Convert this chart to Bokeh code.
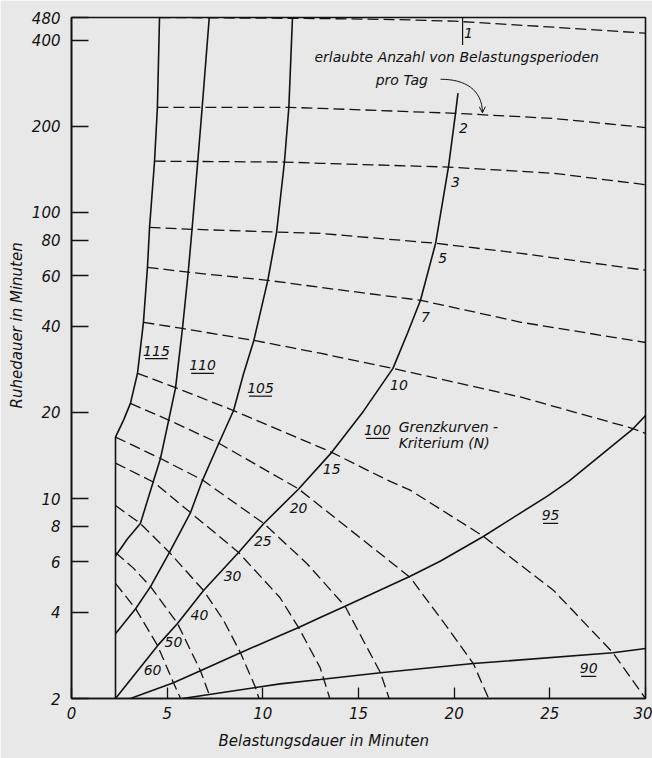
import numpy as np
from bokeh.plotting import figure
from bokeh.models import (Range1d, FixedTicker, NumeralTickFormatter, ColumnDataSource,
                          Label, Arrow, OpenHead, Title)
from bokeh.core.properties import value
from bokeh.embed import file_html
from bokeh.resources import INLINE

# ---------------- data ----------------
X_TICKS = [0, 5, 10, 15, 20, 25, 30]
Y_TICKS = [2, 4, 6, 8, 10, 20, 40, 60, 80, 100, 200, 400, 480]

# Grenzkurven-Kriterium N (solid curves)
n115_x = [2.3, 2.3, 2.72, 3.08, 3.45, 3.76, 3.97, 4.08, 4.34, 4.49, 4.6]
n115_y = [2, 16.4, 18.8, 21.5, 27.4, 41.3, 64.3, 88.7, 151, 233, 480]
n110_x = [2.3, 2.93, 3.6, 4.3, 4.65, 5.08, 5.44, 5.8, 6.1, 6.3, 6.6, 6.83, 7.2]
n110_y = [6.3, 7.23, 8.18, 11.6, 13.8, 18.8, 24.4, 39.3, 61.8, 87.3, 151, 233, 480]
n105_x = [2.3, 3.35, 4.13, 5.12, 6.22, 6.85, 7.7, 8.47, 9.0, 9.53, 10.26, 10.72, 11.13, 11.36, 11.55]
n105_y = [3.37, 4.12, 4.92, 6.48, 8.93, 11.6, 15.6, 20.3, 27.4, 35.7, 57.9, 85.4, 150, 233, 480]
n100_x = [2.3, 4.5, 5.54, 6.9, 8.73, 10.05, 11.87, 13.6, 15.26, 16.8, 17.56, 18.24, 19.03, 19.7, 20.07, 20.2]
n100_y = [2, 3.06, 3.66, 4.77, 6.48, 8.18, 10.8, 14.5, 20.2, 28.5, 37.8, 49.3, 78, 144, 222, 261]
n95_x = [3.08, 5.33, 6.74, 8.83, 10.9, 11.87, 13.0, 14.3, 17.7, 19.29, 21.5, 24.87, 26.0, 29.3, 30]
n95_y = [2, 2.27, 2.5, 2.89, 3.32, 3.54, 3.84, 4.2, 5.35, 6.05, 7.35, 10.2, 11.5, 17.4, 19.5]
n90_x = [5.8, 10.9, 13.0, 16.15, 21.0, 28.3, 30]
n90_y = [2, 2.25, 2.33, 2.46, 2.65, 2.89, 2.99]
n_names = ["115", "110", "105", "100", "95", "90"]
n_label_x = [4.44, 6.85, 9.88, 15.99, 25.04, 27.03]
n_label_y = [32.9, 29.2, 24.3, 17.3, 8.73, 2.55]

# erlaubte Anzahl von Belastungsperioden pro Tag (dashed curves)
p1_x = [4.6, 13.0, 17.0, 20.0, 25.2, 30]
p1_y = [480, 476, 472, 466, 444, 423]
p2_x = [4.49, 11.36, 13.0, 20.07, 25.2, 30]
p2_y = [233, 233, 231, 222, 213, 198]
p3_x = [4.34, 11.13, 13.0, 19.7, 25.2, 30]
p3_y = [151, 150, 148.5, 144, 137, 125]
p5_x = [4.08, 6.3, 10.72, 13.0, 19.03, 23.5, 30]
p5_y = [88.7, 87.3, 85.4, 84.5, 78, 71.9, 62.8]
p7_x = [3.97, 6.1, 10.26, 13.0, 18.24, 23.5, 30]
p7_y = [64.3, 61.8, 57.9, 54.7, 49.3, 41.3, 35.1]
p10_x = [3.76, 5.8, 9.53, 13.0, 16.8, 23.5, 29.3, 30]
p10_y = [41.3, 39.3, 35.7, 32.2, 28.5, 22.6, 17.6, 16.9]
p15_x = [3.45, 5.44, 8.47, 13.6, 16.5, 17.7, 21.5, 25.2, 28.3, 30]
p15_y = [27.4, 24.4, 20.3, 14.5, 11.6, 10.7, 7.4, 4.77, 2.89, 2]
p20_x = [3.08, 5.08, 7.7, 11.87, 15.26, 17.7, 19.65, 21.0, 21.8]
p20_y = [21.5, 18.8, 15.6, 10.8, 7.14, 5.3, 3.54, 2.65, 2]
p25_x = [2.3, 4.65, 6.85, 10.05, 12.3, 14.3, 16.15, 16.6]
p25_y = [16.4, 13.8, 11.6, 8.18, 5.93, 4.2, 2.46, 2]
p30_x = [2.3, 4.3, 6.22, 8.73, 10.9, 11.87, 13.0, 13.5]
p30_y = [13.3, 11.4, 8.93, 6.48, 4.5, 3.54, 2.56, 2]
p40_x = [2.3, 3.6, 5.12, 6.9, 7.95, 8.83, 9.6, 9.8]
p40_y = [9.45, 8.18, 6.48, 4.77, 3.75, 2.89, 2.2, 2]
p50_x = [2.3, 3.25, 4.13, 5.54, 6.74, 7.27]
p50_y = [6.48, 5.7, 4.92, 3.66, 2.5, 2]
p60_x = [2.3, 3.35, 4.5, 5.33, 5.7]
p60_y = [5.05, 4.12, 3.06, 2.27, 2]
p_names = ["1", "2", "3", "5", "7", "10", "15", "20", "25", "30", "40", "50", "60"]

# ---------------- layout / style ----------------
W, H = 652, 758
ML, MR, MT, MB = 71, 7, 17, 60
FW, FH = W - ML - MR, H - MT - MB
FONT = "DejaVu Sans"
INK = "#121212"
BG = "#e8e8e8"
PX_PER_MIN = FW / 30.0
PX_PER_DEC = FH / np.log10(480 / 2)

p = figure(width=W, height=H, title=None, x_range=Range1d(0, 30), y_range=Range1d(2, 480),
           y_axis_type="log", output_backend="svg", toolbar_location=None,
           min_border_left=ML, min_border_right=MR, min_border_top=MT, min_border_bottom=MB,
           background_fill_color=BG, border_fill_color=BG)
p.grid.visible = False
p.outline_line_color = INK
p.outline_line_width = 1.6

xa = p.xaxis[0]
xa.ticker = FixedTicker(ticks=X_TICKS, minor_ticks=[])
xa.major_tick_in = 11
xa.major_tick_out = 0
xa.minor_tick_line_color = None
xa.major_label_standoff = 8
ya = p.yaxis[0]
ya.ticker = FixedTicker(ticks=Y_TICKS, minor_ticks=[])
ya.formatter = NumeralTickFormatter(format="0")
ya.major_tick_in = 17
ya.major_tick_out = 0
ya.minor_tick_line_color = None
ya.major_label_standoff = 11
for ax in (xa, ya):
    ax.axis_line_color = INK
    ax.axis_line_width = 1.6
    ax.major_tick_line_color = INK
    ax.major_tick_line_width = 1.3
    ax.major_label_text_font = FONT
    ax.major_label_text_font_style = "italic"
    ax.major_label_text_font_size = "15px"
    ax.major_label_text_color = INK

n_curves = [(n115_x, n115_y), (n110_x, n110_y), (n105_x, n105_y),
            (n100_x, n100_y), (n95_x, n95_y), (n90_x, n90_y)]
p_curves = [(p1_x, p1_y), (p2_x, p2_y), (p3_x, p3_y), (p5_x, p5_y), (p7_x, p7_y),
            (p10_x, p10_y), (p15_x, p15_y), (p20_x, p20_y), (p25_x, p25_y),
            (p30_x, p30_y), (p40_x, p40_y), (p50_x, p50_y), (p60_x, p60_y)]

for cx, cy in p_curves:
    p.line(cx, cy, line_color=INK, line_width=1.3, line_dash="11 5")
for cx, cy in n_curves:
    p.line(cx, cy, line_color=INK, line_width=1.6)


def crossing(ax_, ay_, bx_, by_):
    ax_ = np.asarray(ax_, float); ay_ = np.log10(np.asarray(ay_, float))
    bx_ = np.asarray(bx_, float); by_ = np.log10(np.asarray(by_, float))
    for i in range(len(ax_) - 1):
        p0 = np.array([ax_[i], ay_[i]]); r = np.array([ax_[i + 1] - ax_[i], ay_[i + 1] - ay_[i]])
        for j in range(len(bx_) - 1):
            q0 = np.array([bx_[j], by_[j]]); s = np.array([bx_[j + 1] - bx_[j], by_[j + 1] - by_[j]])
            den = r[0] * s[1] - r[1] * s[0]
            if abs(den) < 1e-12:
                continue
            d = q0 - p0
            t = (d[0] * s[1] - d[1] * s[0]) / den
            u = (d[0] * r[1] - d[1] * r[0]) / den
            if -1e-6 <= t <= 1 + 1e-6 and -1e-6 <= u <= 1 + 1e-6:
                pt = p0 + t * r
                return pt[0], 10 ** pt[1]
    return None


# labels of the dashed curves, placed at their crossing with curve N = 100
offsets = {"2": (8, 15), "3": (7, 15), "5": (7, 15), "7": (5, 17), "10": (6, 17),
           "15": (0, 17), "20": (0, 19), "25": (-1, 18), "30": (-6, 24),
           "40": (-4, 25), "50": (-4, 19), "60": (-5, 24)}
lx, ly, lt, lox, loy = [], [], [], [], []
for name, (cx, cy) in zip(p_names, p_curves):
    if name not in offsets:
        continue
    c = crossing(cx, cy, n100_x, n100_y)
    if c is None:
        continue
    lx.append(c[0]); ly.append(c[1]); lt.append(name)
    lox.append(offsets[name][0]); loy.append(offsets[name][1])
src = ColumnDataSource(dict(x=lx, y=ly, text=lt, xo=lox, yo=loy))
p.text(x="x", y="y", text="text", x_offset="xo", y_offset="yo", source=src,
       text_font=value(FONT), text_font_style="italic", text_font_size="14px",
       text_color=INK, text_align="center", text_baseline="middle")

# "1" with its marker tick
p.segment(x0=[20.44], y0=[480], x1=[20.44], y1=[385], line_color=INK, line_width=1.2)
p.add_layout(Label(x=20.75, y=425, text="1", text_font=FONT, text_font_style="italic",
                   text_font_size="14px", text_color=INK, text_align="center",
                   text_baseline="middle"))

# N labels (underlined)
nsrc = ColumnDataSource(dict(x=n_label_x, y=n_label_y, text=n_names))
p.text(x="x", y="y", text="text", source=nsrc, text_font=value(FONT),
       text_font_style="italic", text_font_size="14px", text_color=INK,
       text_align="center", text_baseline="middle")
ux0, ux1, uy = [], [], []
for x, y, t in zip(n_label_x, n_label_y, n_names):
    w = (len(t) * 7.6) / PX_PER_MIN
    ux0.append(x - w / 2); ux1.append(x + w / 2)
    uy.append(y * 10 ** (-8 / PX_PER_DEC))
p.segment(x0=ux0, y0=uy, x1=ux1, y1=uy, line_color=INK, line_width=1.2)

txt = dict(text_font=FONT, text_font_style="italic", text_font_size="14px", text_color=INK,
           text_baseline="middle")
p.add_layout(Label(x=17.1, y=17.8, text="Grenzkurven -", text_align="left", **txt))
p.add_layout(Label(x=17.1, y=15.6, text="Kriterium (N)", text_align="left", **txt))
p.add_layout(Label(x=12.7, y=348, text="erlaubte Anzahl von Belastungsperioden",
                   text_align="left", **txt))
p.add_layout(Label(x=15.9, y=290, text="pro Tag", text_align="left", **txt))

# curved arrow from "pro Tag" to curve 2
p.bezier(x0=[19.29], y0=[292], x1=[21.48], y1=[224], cx0=[20.6], cy0=[292],
         cx1=[21.45], cy1=[268], line_color=INK, line_width=1.0)
p.add_layout(Arrow(x_start=21.47, y_start=238, x_end=21.48, y_end=223, line_alpha=0,
                   end=OpenHead(size=6, line_color=INK, line_width=1.0)))

# axis titles
ttl = dict(text_font=FONT, text_font_style="italic", text_font_size="15px",
           text_color=INK, align="left")
p.add_layout(Title(text="Belastungsdauer in Minuten", offset=147, standoff=16,
                   vertical_align="bottom", **ttl), "below")
p.add_layout(Title(text="Ruhedauer in Minuten", offset=290, standoff=6, **ttl), "left")

open("out.html", "w").write(file_html(p, INLINE))
